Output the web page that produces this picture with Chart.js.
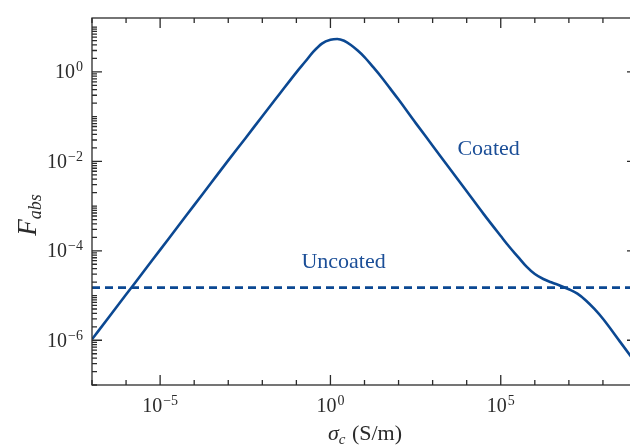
<!DOCTYPE html>
<html>
<head>
<meta charset="utf-8">
<script src="https://cdn.jsdelivr.net/npm/chart.js@4.4.1/dist/chart.umd.min.js"></script>
<style>
  html, body { margin: 0; padding: 0; background: #fff; overflow: hidden; }
  #wrap { width: 660px; height: 446px; position: relative; }
  canvas { display: block; }
</style>
</head>
<body>
<div id="wrap"><canvas id="c" width="660" height="446"></canvas></div>
<script>
// ---- data (log-log axes) ----
const sigma = [1e-7, 3.16e-7, 1e-6, 3.16e-6, 1e-5, 3.16e-5, 1e-4, 3.16e-4, 1e-3, 3.16e-3,
               1e-2, 3.16e-2, 0.1, 0.178, 0.316, 0.562, 1, 1.585, 2.512, 3.981, 6.31, 10,
               17.78, 31.6, 56.23, 100, 316, 1e3, 3.16e3, 1e4, 3.16e4, 1e5, 1.778e5, 3.16e5,
               5.623e5, 1e6, 1.778e6, 3.16e6, 5.623e6, 1e7, 1.778e7, 3.16e7, 5.623e7, 1e8, 3.16e8, 1e9];
const coated = [1.05e-6, 3.31e-6, 1.05e-5, 3.31e-5, 1.05e-4, 3.31e-4, 1.05e-3, 3.31e-3, 1.05e-2, 3.24e-2,
                0.102, 0.316, 0.977, 1.66, 2.82, 4.27, 5.19, 5.43, 4.95, 3.98, 2.99, 2.14,
                1.29, 0.759, 0.427, 0.240, 0.0724, 0.0224, 6.92e-3, 2.14e-3, 6.61e-4, 2.14e-4, 1.23e-4, 7.41e-5,
                4.47e-5, 3.02e-5, 2.34e-5, 1.95e-5, 1.66e-5, 1.38e-5, 1.10e-5, 7.76e-6, 5.01e-6, 3.02e-6, 9.33e-7, 2.82e-7];
const uncoatedSigma = [1e-7, 1e9];
const uncoated = [1.5e-5, 1.5e-5];
const xMajorExps = [-5, 0, 5];
const yMajorExps = [-6, -4, -2, 0];
const seriesNames = ['Coated', 'Uncoated'];

const LINE = '#0b4892';
const TEXTBLUE = '#1b4e97';
const AX = '#2b2b2b';
const SERIF = '"Liberation Serif", "DejaVu Serif", serif';

function pow10Label(ctx, exp, x, y, align) {
  const base = '10';
  const e = (exp < 0 ? '\u2212' : '') + Math.abs(exp);
  ctx.font = '20px ' + SERIF;
  const wb = ctx.measureText(base).width;
  ctx.font = '14px ' + SERIF;
  const we = ctx.measureText(e).width;
  const total = wb + 1 + we;
  let left = x;
  if (align === 'center') left = x - total / 2;
  else if (align === 'right') left = x - total;
  ctx.textAlign = 'left';
  ctx.textBaseline = 'alphabetic';
  ctx.font = '20px ' + SERIF;
  ctx.fillText(base, left, y);
  ctx.font = '14px ' + SERIF;
  ctx.fillText(e, left + wb + 1, y - 7);
}

const decor = {
  id: 'decor',
  afterDatasetsDraw(chart) {
    const { ctx, chartArea: a, scales: { x, y } } = chart;
    ctx.save();
    ctx.strokeStyle = AX;
    ctx.lineWidth = 1.3;
    ctx.strokeRect(a.left, a.top, a.right - a.left, a.bottom - a.top);
    // x ticks (each decade)
    for (let e = -7; e <= 9; e++) {
      const px = x.getPixelForValue(Math.pow(10, e));
      if (px < a.left - 0.5 || px > a.right + 0.5) continue;
      const len = xMajorExps.includes(e) ? 10 : 5;
      ctx.beginPath();
      ctx.moveTo(px, a.bottom); ctx.lineTo(px, a.bottom - len);
      ctx.moveTo(px, a.top); ctx.lineTo(px, a.top + len);
      ctx.stroke();
    }
    // y ticks (decades + minors)
    for (let e = -8; e <= 2; e++) {
      for (let k = 1; k <= 9; k++) {
        const v = k * Math.pow(10, e);
        if (v < y.min * 0.999 || v > y.max) continue;
        const py = y.getPixelForValue(v);
        const len = (k === 1 && yMajorExps.includes(e)) ? 10 : 5;
        ctx.beginPath();
        ctx.moveTo(a.left, py); ctx.lineTo(a.left + len, py);
        ctx.moveTo(a.right, py); ctx.lineTo(a.right - len, py);
        ctx.stroke();
      }
    }
    // tick labels
    ctx.fillStyle = AX;
    xMajorExps.forEach(e => pow10Label(ctx, e, x.getPixelForValue(Math.pow(10, e)), 411.5, 'center'));
    yMajorExps.forEach(e => pow10Label(ctx, e, 83, y.getPixelForValue(Math.pow(10, e)) + 6.5, 'right'));

    // x axis title: sigma_c (S/m)
    ctx.textBaseline = 'alphabetic';
    ctx.textAlign = 'left';
    const p1 = '\u03C3', p2 = 'c', p3 = ' (S/m)';
    ctx.font = 'italic 22px ' + SERIF; const w1 = ctx.measureText(p1).width;
    ctx.font = 'italic 15px ' + SERIF; const w2 = ctx.measureText(p2).width;
    ctx.font = '22px ' + SERIF; const w3 = ctx.measureText(p3).width;
    let lx = (a.left + a.right) / 2 - (w1 + w2 + w3) / 2;
    const by = 440;
    ctx.font = 'italic 22px ' + SERIF; ctx.fillText(p1, lx, by);
    ctx.font = 'italic 15px ' + SERIF; ctx.fillText(p2, lx + w1, by + 4);
    ctx.font = '22px ' + SERIF; ctx.fillText(p3, lx + w1 + w2 + 1, by);

    // y axis title: F_abs
    ctx.save();
    ctx.translate(36, 215);
    ctx.rotate(-Math.PI / 2);
    ctx.font = 'italic 27px ' + SERIF; const f1 = ctx.measureText('F').width;
    ctx.font = 'italic 18px ' + SERIF; const f2 = ctx.measureText('abs').width;
    const sx = -(f1 + f2) / 2;
    ctx.font = 'italic 27px ' + SERIF; ctx.fillText('F', sx, 0);
    ctx.font = 'italic 18px ' + SERIF; ctx.fillText('abs', sx + f1, 5);
    ctx.restore();

    // series annotations
    ctx.fillStyle = TEXTBLUE;
    ctx.font = '22px ' + SERIF;
    ctx.textAlign = 'center';
    ctx.textBaseline = 'alphabetic';
    ctx.fillText(seriesNames[0], x.getPixelForValue(4.4e4), y.getPixelForValue(0.014));
    ctx.fillText(seriesNames[1], x.getPixelForValue(2.43), y.getPixelForValue(4.19e-5));
    ctx.restore();
  }
};

new Chart(document.getElementById('c'), {
  type: 'scatter',
  data: {
    datasets: [
      {
        label: seriesNames[0],
        data: sigma.map((s, i) => ({ x: s, y: coated[i] })),
        showLine: true,
        borderColor: LINE,
        borderWidth: 2.6,
        pointRadius: 0,
        cubicInterpolationMode: 'monotone',
        fill: false
      },
      {
        label: seriesNames[1],
        data: uncoatedSigma.map((s, i) => ({ x: s, y: uncoated[i] })),
        showLine: true,
        borderColor: LINE,
        borderWidth: 2.6,
        borderDash: [8, 5],
        pointRadius: 0,
        fill: false
      }
    ]
  },
  options: {
    responsive: false,
    animation: false,
    devicePixelRatio: 1,
    layout: { padding: { left: 92, top: 18, right: 23, bottom: 61 } },
    plugins: { legend: { display: false }, tooltip: { enabled: false } },
    scales: {
      x: { type: 'logarithmic', min: 1e-7, max: 1e9, display: false },
      y: { type: 'logarithmic', min: 1e-7, max: 16, display: false }
    }
  },
  plugins: [decor]
});
</script>
</body>
</html>
